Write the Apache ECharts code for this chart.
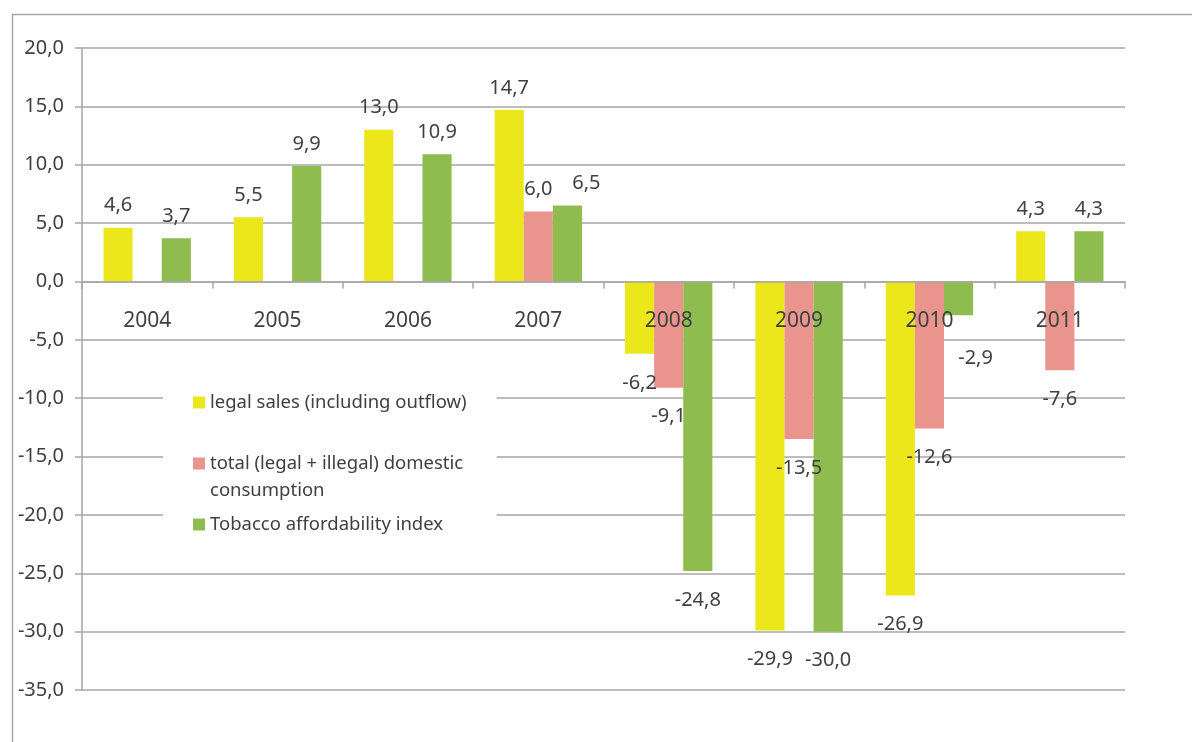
<!DOCTYPE html>
<html>
<head>
<meta charset="utf-8">
<script src="https://cdn.jsdelivr.net/npm/echarts@6/dist/echarts.min.js"></script>
<style>html,body{margin:0;padding:0;background:#fff}#c{width:1192px;height:742px}</style>
</head>
<body>
<div id="c"></div>
<script>
const categories = ['2004','2005','2006','2007','2008','2009','2010','2011'];
const seriesNames = ['legal sales (including outflow)', 'total (legal + illegal) domestic consumption', 'Tobacco affordability index'];
const legalSales = [4.6, 5.5, 13.0, 14.7, -6.2, -29.9, -26.9, 4.3];
const totalConsumption = [null, null, null, 6.0, -9.1, -13.5, -12.6, -7.6];
const affordability = [3.7, 9.9, 10.9, 6.5, -24.8, -30.0, -2.9, 4.3];
const yTicks = {min: -35, max: 20, interval: 5};

const colors = ['#ebe71b', '#e9958e', '#8fbc4f'];
const textColor = '#404040';
const gridColor = '#a6a6a6';
const font = 'Noto Sans';
const fmt = v => v.toFixed(1).replace('.', ',');

const gridTop = 48, gridBottom = 52, chartH = 742;

function toData(arr, special) {
  return arr.map((v, i) => {
    if (v === null) return null;
    const item = {value: v, label: {position: v < 0 ? 'bottom' : 'top', distance: v < 0 ? 19 : 12}};
    if (special && special[i]) item.label.offset = special[i];
    return item;
  });
}

const chart = echarts.init(document.getElementById('c'), null, {renderer: 'canvas'});
const labelCfg = {
  show: true, color: textColor, fontFamily: font, fontSize: 20,
  formatter: p => fmt(p.value)
};
// pixel distance from grid bottom to the zero line (x axis sits on zero)
const plotH = chartH - gridTop - gridBottom;
const zeroOffset = plotH * (0 - yTicks.min) / (yTicks.max - yTicks.min);

chart.setOption({
  animation: false,
  backgroundColor: '#fff',
  graphic: [{
    type: 'rect', left: 10, top: 12, z: -10,
    shape: {width: 1300, height: 900},
    style: {fill: 'none', stroke: gridColor, lineWidth: 1.5}
  }],
  grid: {left: 82, right: 67, top: gridTop, bottom: gridBottom, containLabel: false},
  legend: {
    orient: 'vertical', left: 163, top: 389, z: 5,
    backgroundColor: '#fff',
    padding: [0, 30, 6, 30],
    itemGap: 7, itemWidth: 12, itemHeight: 12,
    icon: 'rect',
    textStyle: {color: textColor, fontFamily: font, fontSize: 18.5, lineHeight: 27},
    formatter: name => name === seriesNames[1] ? '\ntotal (legal + illegal) domestic\nconsumption' : name,
    data: seriesNames
  },
  xAxis: {
    type: 'category', data: categories, z: 5,
    offset: -zeroOffset,
    axisLine: {onZero: false, lineStyle: {color: gridColor, width: 1.5}},
    axisTick: {show: true, length: 7, lineStyle: {color: gridColor, width: 1.5}},
    axisLabel: {color: textColor, fontFamily: font, fontSize: 21, margin: 29}
  },
  yAxis: {
    type: 'value', min: yTicks.min, max: yTicks.max, interval: yTicks.interval,
    axisLine: {show: true, lineStyle: {color: gridColor, width: 1.5}},
    axisTick: {show: true, length: 7, lineStyle: {color: gridColor, width: 1.5}},
    splitLine: {show: true, lineStyle: {color: gridColor, width: 1.5}},
    axisLabel: {color: textColor, fontFamily: font, fontSize: 20, margin: 18, formatter: fmt}
  },
  series: [
    {name: seriesNames[0], type: 'bar', data: toData(legalSales), itemStyle: {color: colors[0]},
     barGap: '0%', barCategoryGap: '33%', label: labelCfg},
    {name: seriesNames[1], type: 'bar', data: toData(totalConsumption), itemStyle: {color: colors[1]},
     barGap: '0%', barCategoryGap: '33%', label: labelCfg},
    {name: seriesNames[2], type: 'bar', data: toData(affordability, {3: [19, 0], 6: [17, 14]}), itemStyle: {color: colors[2]},
     barGap: '0%', barCategoryGap: '33%', label: labelCfg}
  ]
});
</script>
</body>
</html>
